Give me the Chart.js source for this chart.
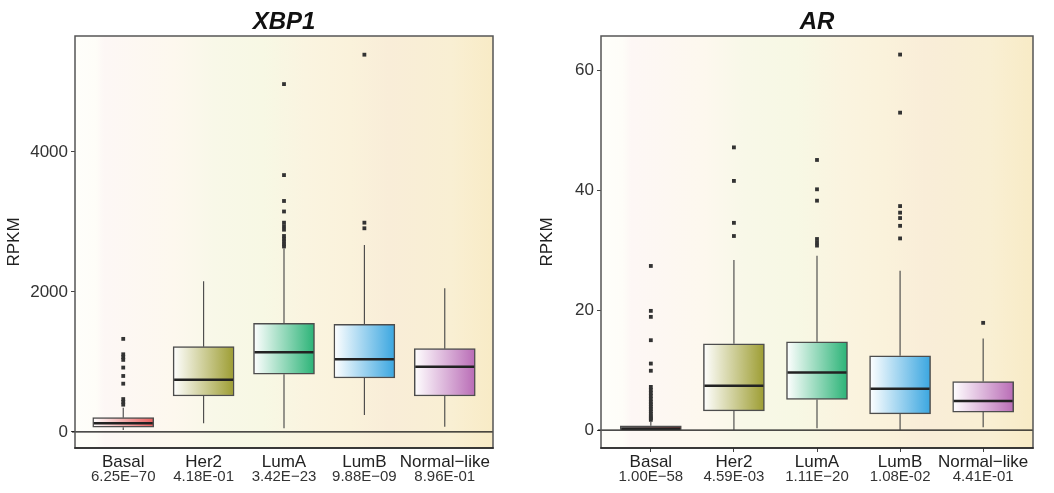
<!DOCTYPE html>
<html>
<head>
<meta charset="utf-8">
<script src="https://cdn.jsdelivr.net/npm/chart.js@4/dist/chart.umd.min.js"></script>
<style>
    body { margin: 0; background: #fff; }
    .panel { position: absolute; top: 0; width: 527px; height: 493px; }
</style>
</head>
<body>
<div class="panel" style="left:0"><canvas id="xbp1Chart" width="527" height="493"></canvas></div>
<div class="panel" style="left:527px"><canvas id="arChart" width="527" height="493"></canvas></div>
<script>
// subtypes and colours
const categories = ['Basal', 'Her2', 'LumA', 'LumB', 'Normal\u2212like'];
const boxColors = ['#e95f5f', '#9d9d32', '#2bb377', '#3aa6e0', '#b96cb6'];

// XBP1 panel
const xbp1PValues = ['6.25E\u221270', '4.18E-01', '3.42E\u221223', '9.88E\u221209', '8.96E-01'];
const xbp1Low = [29, 124, 53, 243, 76];
const xbp1Q1 = [67, 514, 824, 771, 514];
const xbp1Median = [124, 747, 1138, 1038, 933];
const xbp1Q3 = [204, 1219, 1552, 1538, 1190];
const xbp1High = [347, 2153, 2620, 2671, 2052];
const xbp1Outliers = [
    [1330, 1110, 1070, 1030, 920, 800, 690, 470, 430, 390],
    [],
    [4970, 3670, 3300, 3150, 2990, 2940, 2890, 2800, 2760, 2720, 2680, 2650],
    [5390, 2990, 2910],
    []
];
const xbp1Ticks = [0, 2000, 4000];

// AR panel
const arPValues = ['1.00E\u221258', '4.59E-03', '1.11E\u221220', '1.08E-02', '4.41E-01'];
const arLow = [0, 0, 0.3, 0, 0.45];
const arQ1 = [0.05, 3.2, 5.1, 2.7, 3.0];
const arMedian = [0.25, 7.4, 9.6, 6.9, 4.85];
const arQ3 = [0.7, 14.4, 14.75, 12.4, 8.1];
const arHigh = [1.4, 28.4, 29.1, 26.6, 15.3];
const arOutliers = [
    [27.4, 19.9, 18.9, 15.0, 11.1, 9.9, 7.2, 6.7, 6.2, 5.7, 5.2, 4.7, 4.3, 3.9, 3.5, 3.1, 2.7, 2.3, 2.0, 1.7],
    [47.2, 41.6, 34.6, 32.4],
    [45.1, 40.2, 38.3, 31.9, 31.3, 30.8],
    [62.7, 53.0, 37.4, 36.3, 35.4, 34.1, 32.0],
    [17.9]
];
const arTicks = [0, 20, 40, 60];

const FONT = '"Liberation Sans", Arial, sans-serif';
const BOX_WIDTH = 61;

// background, whiskers, medians, frame, titles, p-values
let boxPlotPlugin = {
    id: 'boxPlot',
    beforeDatasetsDraw(chart, args, opts) {
        let ctx = chart.ctx, a = chart.chartArea;
        let g = ctx.createLinearGradient(a.left, 0, a.right, 0);
        g.addColorStop(0, '#fefefa');
        g.addColorStop(0.05, '#fefdf8');
        g.addColorStop(0.07, '#fdf7f5');
        g.addColorStop(0.24, '#fdf8ee');
        g.addColorStop(0.33, '#f8f8e8');
        g.addColorStop(0.45, '#f7f8e4');
        g.addColorStop(0.55, '#faf4e0');
        g.addColorStop(0.66, '#faf2db');
        g.addColorStop(0.75, '#f9edd8');
        g.addColorStop(0.9, '#f9efd3');
        g.addColorStop(1, '#f8ebc6');
        ctx.save();
        ctx.fillStyle = g;
        ctx.fillRect(a.left, a.top, a.right - a.left, a.bottom - a.top);

        // zero line
        let y0 = chart.scales.y.getPixelForValue(0);
        ctx.strokeStyle = '#111';
        ctx.lineWidth = 1.2;
        ctx.beginPath();
        ctx.moveTo(a.left - 3, y0);
        ctx.lineTo(a.right, y0);
        ctx.stroke();

        // whiskers
        ctx.strokeStyle = '#444';
        ctx.lineWidth = 1.1;
        opts.low.forEach((lo, i) => {
            let x = chart.scales.x.getPixelForValue(i);
            ctx.beginPath();
            ctx.moveTo(x, chart.scales.y.getPixelForValue(lo));
            ctx.lineTo(x, chart.scales.y.getPixelForValue(opts.q1[i]));
            ctx.moveTo(x, chart.scales.y.getPixelForValue(opts.q3[i]));
            ctx.lineTo(x, chart.scales.y.getPixelForValue(opts.high[i]));
            ctx.stroke();
        });
        ctx.restore();
    },
    afterDatasetsDraw(chart, args, opts) {
        let ctx = chart.ctx;
        ctx.save();
        ctx.strokeStyle = '#222';
        ctx.lineWidth = 2.5;
        opts.median.forEach((m, i) => {
            let x = chart.scales.x.getPixelForValue(i);
            let y = chart.scales.y.getPixelForValue(m);
            ctx.beginPath();
            ctx.moveTo(x - BOX_WIDTH / 2 + 1, y);
            ctx.lineTo(x + BOX_WIDTH / 2 - 1, y);
            ctx.stroke();
        });
        ctx.restore();
    },
    afterDraw(chart, args, opts) {
        let ctx = chart.ctx, a = chart.chartArea;
        ctx.save();
        ctx.strokeStyle = '#555';
        ctx.lineWidth = 1.5;
        ctx.strokeRect(a.left, a.top, a.right - a.left, a.bottom - a.top);
        ctx.strokeStyle = '#222';
        ctx.beginPath();
        ctx.moveTo(a.left - 0.75, a.bottom);
        ctx.lineTo(a.right + 0.75, a.bottom);
        ctx.stroke();

        ctx.fillStyle = '#111';
        ctx.font = 'italic bold 24px ' + FONT;
        ctx.textAlign = 'center';
        ctx.textBaseline = 'middle';
        ctx.fillText(opts.title, (a.left + a.right) / 2, 22);

        ctx.fillStyle = '#333';
        ctx.font = '15px ' + FONT;
        opts.pValues.forEach((p, i) => {
            ctx.fillText(p, chart.scales.x.getPixelForValue(i), 477);
        });
        ctx.restore();
    }
};

function makeBoxChart(id, title, pValues, low, q1, median, q3, high, outliers, yTicks, yMin, yMax, rightPad, yWidth, xTickColor, titlePad) {
    let boxData = categories.map((c, i) => ({x: i, y: [q1[i], q3[i]]}));
    let outlierData = [];
    outliers.forEach((list, i) => list.forEach(v => outlierData.push({x: i, y: v})));

    return new Chart(document.getElementById(id).getContext('2d'), {
        type: 'bar',
        data: {
            datasets: [
                {
                    type: 'scatter',
                    data: outlierData,
                    pointStyle: 'rect',
                    pointRadius: 2.7,
                    pointBorderWidth: 0,
                    backgroundColor: '#333',
                    borderColor: '#333'
                },
                {
                    data: boxData,
                    barThickness: BOX_WIDTH,
                    borderColor: '#4d4d4d',
                    borderWidth: 1.5,
                    borderSkipped: false,
                    backgroundColor: (context) => {
                        let chart = context.chart;
                        let i = context.dataIndex;
                        if (!chart.chartArea || context.type !== 'data') return boxColors[i];
                        let x = chart.scales.x.getPixelForValue(i);
                        let g = chart.ctx.createLinearGradient(x - BOX_WIDTH / 2, 0, x + BOX_WIDTH / 2, 0);
                        g.addColorStop(0, '#ffffff');
                        g.addColorStop(1, boxColors[i]);
                        return g;
                    }
                }
            ]
        },
        options: {
            responsive: false,
            animation: false,
            layout: {padding: {top: 36, right: rightPad, left: 0, bottom: 0}},
            plugins: {
                legend: {display: false},
                tooltip: {enabled: false},
                boxPlot: {title: title, pValues: pValues, low: low, q1: q1, median: median, q3: q3, high: high}
            },
            scales: {
                x: {
                    type: 'linear',
                    min: -0.6,
                    max: 4.6,
                    offset: false,
                    border: {display: false},
                    grid: {drawOnChartArea: false, drawTicks: true, tickLength: 4, tickColor: xTickColor, offset: false},
                    afterBuildTicks: (scale) => { scale.ticks = categories.map((c, i) => ({value: i})); },
                    afterFit: (scale) => { scale.height = 45; },
                    ticks: {
                        color: '#222',
                        padding: 0,
                        maxRotation: 0,
                        autoSkip: false,
                        font: {family: FONT, size: 17},
                        callback: (v) => categories[v]
                    }
                },
                y: {
                    min: yMin,
                    max: yMax,
                    border: {display: false},
                    grid: {drawOnChartArea: false, drawTicks: true, tickLength: 4, tickColor: '#444'},
                    afterBuildTicks: (scale) => { scale.ticks = yTicks.map(v => ({value: v})); },
                    afterFit: (scale) => { scale.width = yWidth; },
                    ticks: {color: '#333', padding: 3, font: {family: FONT, size: 17}, callback: (v) => String(v)},
                    title: {display: true, text: 'RPKM', color: '#222', padding: titlePad, font: {family: FONT, size: 17}}
                }
            }
        },
        plugins: [boxPlotPlugin]
    });
}

window.xbp1 = makeBoxChart('xbp1Chart', 'XBP1', xbp1PValues, xbp1Low, xbp1Q1, xbp1Median, xbp1Q3, xbp1High,
    xbp1Outliers, xbp1Ticks, -229, 5657, 34, 75, 'rgba(0,0,0,0)', {top: 4, bottom: 4});
window.ar = makeBoxChart('arChart', 'AR', arPValues, arLow, arQ1, arMedian, arQ3, arHigh,
    arOutliers, arTicks, -3.0, 65.8, 21, 74, '#444', {top: 10, bottom: 4});
</script>
</body>
</html>
